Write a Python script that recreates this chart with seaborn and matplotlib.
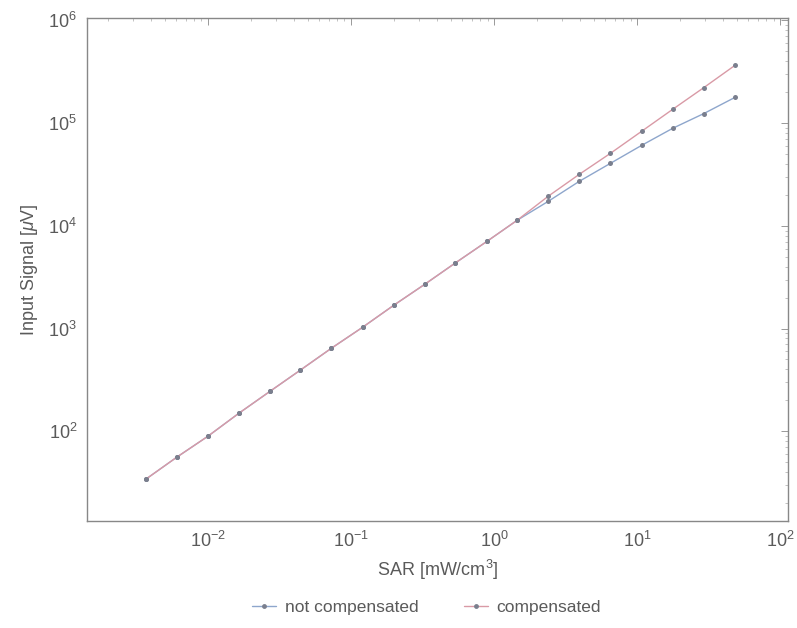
import matplotlib
matplotlib.use("Agg")
import matplotlib.pyplot as plt
import seaborn as sns
import pandas as pd
import numpy as np
from matplotlib.ticker import LogLocator, NullFormatter
from matplotlib.lines import Line2D

# Data
sar = [0.00368, 0.00605, 0.0100, 0.0165, 0.0272, 0.0442, 0.0730, 0.1205, 0.199, 0.328,
       0.532, 0.893, 1.45, 2.39, 3.94, 6.51, 10.75, 17.7, 29.3, 48.3]
not_compensated = [34.1, 55.8, 89.4, 150, 245, 393, 643, 1028, 1684, 2697,
                   4315, 7063, 11320, 17300, 27100, 40600, 60700, 88900, 124000, 178000]
compensated = [34.1, 55.8, 89.4, 150, 245, 393, 643, 1028, 1684, 2697,
               4315, 7063, 11320, 19400, 31700, 50800, 83200, 136000, 222000, 365000]
series_names = ["not compensated", "compensated"]

df = pd.DataFrame({
    "SAR": sar * 2,
    "signal": not_compensated + compensated,
    "series": [series_names[0]] * len(sar) + [series_names[1]] * len(sar),
})

sns.set_style("white")
plt.rcParams["font.family"] = ["Liberation Sans", "DejaVu Sans"]
plt.rcParams["mathtext.fontset"] = "custom"
plt.rcParams["mathtext.rm"] = "Liberation Sans"
plt.rcParams["mathtext.it"] = "Liberation Sans:italic"

fig = plt.figure(figsize=(7.97, 6.28), dpi=100)
ax = fig.add_axes([0.109, 0.170, 0.880, 0.801])

palette = {"not compensated": "#8ea6cc", "compensated": "#d99aa6"}
marker_color = "#7a7f8e"
sns.lineplot(data=df, x="SAR", y="signal", hue="series", palette=palette,
             marker="o", markersize=3.6, markeredgewidth=0, linewidth=1.0,
             ax=ax, legend=False, sort=False)
for line in ax.lines:
    line.set_markerfacecolor(marker_color)

ax.set_xscale("log")
ax.set_yscale("log")
ax.set_xlim(0.001426, 113.8)
ax.set_ylim(13.3, 1.05e6)

ax.xaxis.set_major_locator(LogLocator(base=10, numticks=12))
ax.yaxis.set_major_locator(LogLocator(base=10, numticks=12))
ax.xaxis.set_minor_locator(LogLocator(base=10, subs=np.arange(2, 10), numticks=12))
ax.yaxis.set_minor_locator(LogLocator(base=10, subs=np.arange(2, 10), numticks=12))
ax.xaxis.set_minor_formatter(NullFormatter())
ax.yaxis.set_minor_formatter(NullFormatter())

txt = "#5a5a5a"
ax.tick_params(axis="both", which="major", direction="in", length=5, width=0.7,
               color="#999999", labelsize=13, labelcolor=txt, pad=7)
ax.tick_params(axis="both", which="minor", direction="in", length=2.5, width=0.5,
               color="#aaaaaa")
ax.tick_params(top=True, right=True, which="both")
for s in ax.spines.values():
    s.set_color("#888888")
    s.set_linewidth(1.0)

ax.set_xlabel("SAR [mW/cm$^3$]", fontsize=13, color=txt, labelpad=5)
ax.set_ylabel("Input Signal [$\\mu$V]", fontsize=13, color=txt, labelpad=6)

handles = [Line2D([0], [0], color=palette[n], lw=1.0, marker="o", markersize=3.5,
                  markerfacecolor=marker_color, markeredgewidth=0) for n in series_names]
fig.legend(handles, series_names, loc="center", bbox_to_anchor=(0.535, 0.032),
           ncol=2, frameon=False, fontsize=12.5, labelcolor=txt,
           handlelength=1.4, columnspacing=2.6, handletextpad=0.5)

fig.savefig("out.png", dpi=100, facecolor="white")
